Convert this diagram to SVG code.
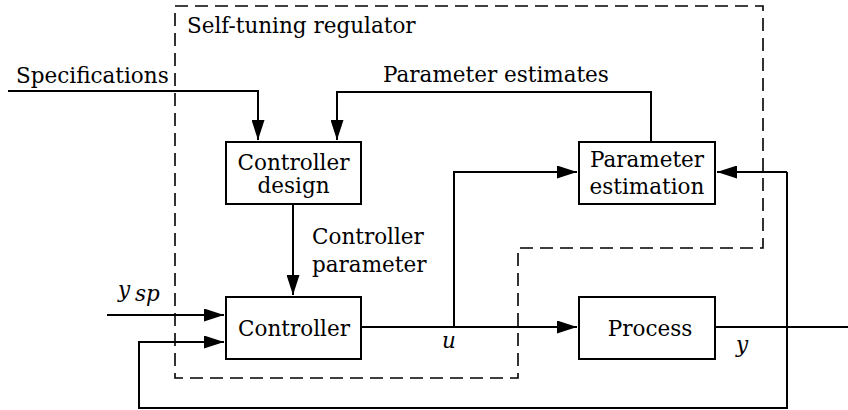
<svg xmlns="http://www.w3.org/2000/svg" width="848" height="410" viewBox="0 0 848 410">
<style>
.t{font-family:"DejaVu Serif","Liberation Serif",serif;font-size:21.5px;fill:#000}
.i{font-style:italic}
.box{fill:#fff;stroke:#000;stroke-width:2}
.ln{fill:none;stroke:#000;stroke-width:2}
.dash{fill:none;stroke:#000;stroke-width:1.6;stroke-dasharray:13 7}
</style>
<defs>
<marker id="ah" markerWidth="20" markerHeight="13" refX="20" refY="6.5" orient="auto" markerUnits="userSpaceOnUse">
<path d="M0,0 L20,6.5 L0,13 Z" fill="#000"/>
</marker>
</defs>
<rect width="848" height="410" fill="#fff"/>
<g id="boundary">
<path class="dash" d="M175,6 H763 V248 H518 V378 H175 Z"/>
<text class="t" x="187" y="33">Self-tuning regulator</text>
</g>
<g id="connectors">
<path class="ln" d="M8,91 H258 V140" marker-end="url(#ah)"/>
<path class="ln" d="M651,142 V92 H337 V140" marker-end="url(#ah)"/>
<path class="ln" d="M293,204 V295" marker-end="url(#ah)"/>
<path class="ln" d="M107,315 H224" marker-end="url(#ah)"/>
<path class="ln" d="M787,172 V408 H139 V342 H224" marker-end="url(#ah)"/>
<path class="ln" d="M787,172 H717" marker-end="url(#ah)"/>
<path class="ln" d="M361,327 H577" marker-end="url(#ah)"/>
<path class="ln" d="M454,327 V172 H577" marker-end="url(#ah)"/>
<path class="ln" d="M715,327 H848"/>
<text class="t" x="16" y="83">Specifications</text>
<text class="t" x="383" y="82">Parameter estimates</text>
<text class="t" x="312" y="244">Controller</text>
<text class="t" x="312" y="272">parameter</text>
<text class="t i" x="118" y="297" font-size="22">y</text>
<text class="t i" x="135" y="301" font-size="15">sp</text>
<text class="t i" x="442" y="348" font-size="22">u</text>
<text class="t i" x="736" y="352" font-size="22">y</text>
</g>
<g id="controller-design">
<rect class="box" x="226" y="142" width="135" height="62"/>
<text class="t" x="293.5" y="170" text-anchor="middle">Controller</text>
<text class="t" x="293.5" y="193" text-anchor="middle">design</text>
</g>
<g id="parameter-estimation">
<rect class="box" x="579" y="142" width="136" height="62"/>
<text class="t" x="647" y="167" text-anchor="middle">Parameter</text>
<text class="t" x="647" y="194" text-anchor="middle">estimation</text>
</g>
<g id="controller">
<rect class="box" x="226" y="297" width="135" height="62"/>
<text class="t" x="294" y="336" text-anchor="middle">Controller</text>
</g>
<g id="process">
<rect class="box" x="579" y="297" width="136" height="62"/>
<text class="t" x="650" y="336" text-anchor="middle">Process</text>
</g>
</svg>
